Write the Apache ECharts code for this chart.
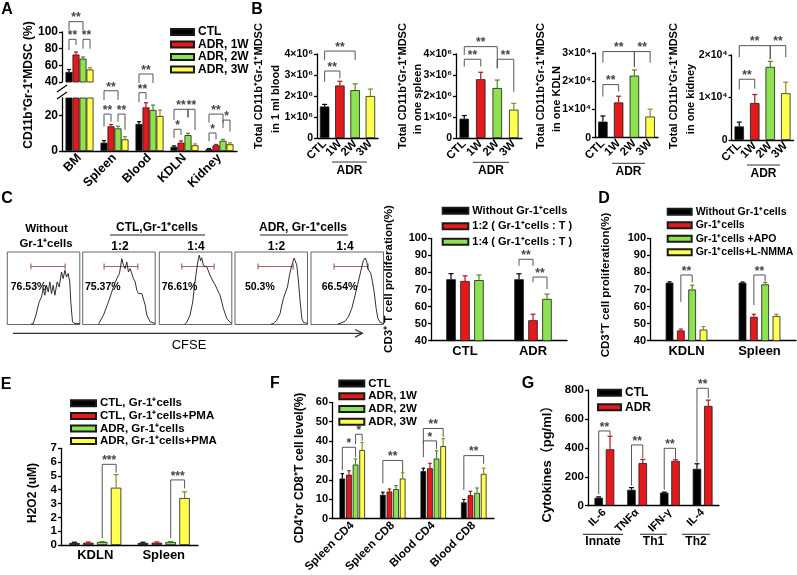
<!DOCTYPE html>
<html><head><meta charset="utf-8">
<script src="https://cdn.jsdelivr.net/npm/echarts@6/dist/echarts.min.js"></script>
<style>html,body{margin:0;padding:0;background:#fff}#c{width:797px;height:575px}</style>
</head><body><div id="c"></div>
<script>
// ================= DATA =================
// Panel A
const catsA = ['BM', 'Spleen', 'Blood', 'KDLN', 'Kidney'];
const namesA = ['CTL', 'ADR, 1W', 'ADR, 2W', 'ADR, 3W'];
const aCTL = [52, 4.7, 15.3, 2.4, 1.1];
const aW1 = [73, 14, 24.7, 4.7, 3.2];
const aW2 = [68, 12.8, 23.2, 9.0, 5.8];
const aW3 = [55, 6.6, 19.8, 3.2, 3.8];
const aErrCTL = [3, 1.2, 1.3, 0.5, 0.3];
const aErrW1 = [3, 1.0, 2.6, 1.0, 0.5];
const aErrW2 = [2, 1.2, 2.8, 1.0, 0.8];
const aErrW3 = [2, 1.5, 3.4, 0.8, 0.8];
const aUpperTicks = [40, 60, 80, 100];
const aLowerTicks = [0, 20];
// Panel B
const catsB = ['CTL', '1W', '2W', '3W'];
const bBlood = [1.5e6, 2.5e6, 2.28e6, 2.0e6];
const bBloodErr = [0.1e6, 0.2e6, 0.3e6, 0.33e6];
const bSpleen = [0.92e6, 2.8e6, 2.38e6, 1.35e6];
const bSpleenErr = [0.15e6, 0.33e6, 0.38e6, 0.3e6];
const bKDLN = [0.57e4, 1.25e4, 2.2e4, 0.75e4];
const bKDLNErr = [0.2e4, 0.22e4, 0.2e4, 0.26e4];
const bKidney = [0.32e4, 0.87e4, 1.72e4, 1.1e4];
const bKidneyErr = [0.1e4, 0.2e4, 0.13e4, 0.26e4];
// Panel C histograms (CFSE, % of box x / y)
const hist1 = [[33,0.8],[35.8,1.4],[39.4,12.8],[44.0,31.2],[47.2,38.1],[49.5,49.5],[51.8,40.4],[54.1,54.1],[56.4,45],[58.7,58.7],[61.0,42.7],[63.3,54.1],[65.6,40.4],[68.8,58.7],[71.6,51.8],[74.8,72.5],[77.1,63.3],[79.4,74.8],[81.7,65.6],[83.9,70.2],[86.2,58.7],[87.6,31.2],[89.9,3.7],[93.1,1.4],[100,1]];
const hist2 = [[22,0.8],[24.0,1.4],[28.6,12.8],[35.5,31.2],[42.4,51.8],[47.0,63.3],[50.7,70.2],[53.9,90.8],[56.2,81.7],[58.5,77.1],[60.8,86.2],[63.1,72.5],[65.4,77.1],[67.7,70.2],[70.0,63.3],[72.4,58.7],[74.7,47.2],[77.0,42.7],[79.3,45.0],[81.6,42.7],[83.9,40.4],[86.2,26.6],[88.5,12.8],[93.1,3.7],[100,1.4]];
const hist3 = [[35,0.8],[37.8,2.8],[42.4,12.8],[46.1,31.1],[49.3,58.7],[51.7,77.1],[53.9,90.9],[55.2,95.5],[56.8,88],[58.5,92],[60.8,81.7],[63,83],[65.5,79.3],[70.0,67.9],[72,66],[74.6,58.7],[77,55],[79.3,49.6],[81.5,44.9],[83.8,40.4],[86.2,31.1],[88.4,22.0],[93.1,8.3],[97.7,2.8],[100,1.5]];
const hist4 = [[50,0.8],[53.0,1.4],[57.6,6.0],[62.2,15.1],[64.5,26.6],[66.8,35.8],[69.1,42.7],[72.4,51.8],[75.1,67.9],[78.3,81.7],[81.6,91.7],[83.9,93.1],[85.3,81.7],[87.6,58.7],[89.9,31.2],[92.2,8.3],[94.5,2.8],[100,1.4]];
const hist5 = [[37,0.8],[40.1,1.4],[47.0,4.6],[51.6,10.6],[56.2,22.0],[60.8,40.4],[64.1,54.1],[66.8,65.6],[70.0,79.4],[72.4,88.5],[74.7,91.7],[77.0,86.2],[78.3,77.1],[80.2,79.4],[82.5,70.2],[84.8,58.7],[87.1,45.0],[89.9,22.0],[92.2,8.3],[95.4,2.8],[100,1.4]];
const gateStart = [32.5, 29.5, 31, 31.8, 31.8];
const gateEnd = [79.8, 76, 75.6, 80.2, 78.8];
const gateLevel = [80, 80, 80, 80, 80];
const pctLabels = ['76.53%', '75.37%', '76.61%', '50.3%', '66.54%'];
// Panel C bars
const catsC = ['CTL', 'ADR'];
const namesC = ['Without Gr-1⁺cells', '1:2 ( Gr-1⁺cells : T )', '1:4 ( Gr-1⁺cells : T )'];
const cWithout = [76, 76];
const cR12 = [75, 52];
const cR14 = [75.5, 64.5];
const cWithoutErr = [3.3, 3.2];
const cR12Err = [3, 3.5];
const cR14Err = [3, 2.8];
// Panel D
const catsD = ['KDLN', 'Spleen'];
const namesD = ['Without Gr-1⁺cells', 'Gr-1⁺cells', 'Gr-1⁺cells +APO', 'Gr-1⁺cells+L-NMMA'];
const dWithout = [74, 74];
const dGr = [46, 54];
const dApo = [70, 73];
const dNmma = [46.5, 54.5];
const dWithoutErr = [0.5, 0.4];
const dGrErr = [0.8, 1.5];
const dApoErr = [2.5, 1.2];
const dNmmaErr = [1.8, 1.0];
// Panel E
const catsE = ['KDLN', 'Spleen'];
const namesE = ['CTL, Gr-1⁺cells', 'CTL, Gr-1⁺cells+PMA', 'ADR, Gr-1⁺cells', 'ADR, Gr-1⁺cells+PMA'];
const eCtl = [0.15, 0.15];
const eCtlPma = [0.17, 0.17];
const eAdr = [0.22, 0.22];
const eAdrPma = [4.15, 3.4];
const eCtlErr = [0.05, 0.05];
const eCtlPmaErr = [0.05, 0.05];
const eAdrErr = [0.03, 0.03];
const eAdrPmaErr = [0.95, 0.45];
// Panel F
const catsF = ['Spleen CD4', 'Spleen CD8', 'Blood CD4', 'Blood CD8'];
const namesF = ['CTL', 'ADR, 1W', 'ADR, 2W', 'ADR, 3W'];
const fCTL = [20.7, 12.3, 24.5, 8.4];
const fW1 = [22.7, 14, 26, 12.1];
const fW2 = [27.9, 15.2, 31, 13.3];
const fW3 = [35.4, 20.7, 37.4, 23.1];
const fCTLErr = [2.5, 1.3, 1.5, 1.5];
const fW1Err = [2, 1.3, 2.5, 2];
const fW2Err = [2.9, 1.8, 4, 2.5];
const fW3Err = [3.9, 3, 3.9, 2.9];
// Panel G
const catsG = ['IL-6', 'TNFα', 'IFN-γ', 'IL-4'];
const namesG = ['CTL', 'ADR'];
const gCTL = [55, 110, 90, 255];
const gADR = [390, 295, 310, 690];
const gCTLErr = [6, 15, 4, 35];
const gADRErr = [90, 25, 8, 40];
// Significance brackets: [catA, serA, catB, serB, top, legEndA, legEndB, stars]
const sigAU = [[0,0,0,2,112.4,102.4,102.4,'**'],[0,0,0,1,91.2,78.4,84.4,'**'],[0,2,0,3,91.2,80,80,'**']];
const sigAL = [[1,0,1,2,34.1,28.9,28.9,'**'],[1,0,1,1,20.9,13.8,16.6,'**'],[1,2,1,3,20.9,16.6,12,'**'],
  [2,0,2,2,43.6,38.5,38.5,'**'],[2,0,2,1,33.0,27.7,29.5,'**'],
  [3,0,3,2,23.6,17.5,19,'**'],[3,0,3,1,12.3,7.4,9,'*'],[3,2,3,3,23.6,19,11.9,'**'],
  [4,0,4,2,20.9,16,16,'**'],[4,0,4,1,10.2,5.5,6.5,'*'],[4,2,4,3,17.5,13,11,'*']];
const sigB1 = [[0,0,1,0,3.19e6,2.68e6,2.84e6,'**'],[0,0,2,0,4.14e6,3.71e6,3.71e6,'**']];
const sigB2 = [[0,0,1,0,3.75e6,3.4e6,3.4e6,'**'],[0,0,2,0,4.35e6,3.95e6,3.32e6,'**'],[2,0,3,0,3.75e6,3.32e6,2.2e6,'**']];
const sigB3 = [[0,0,1,0,1.88e4,1.46e4,1.64e4,'**'],[0,0,2,0,3.05e4,2.66e4,2.5e4,'**'],[2,0,3,0,3.05e4,2.5e4,2.66e4,'**']];
const sigB4 = [[0,0,1,0,1.43e4,1.19e4,1.21e4,'**'],[0,0,2,0,2.22e4,1.95e4,1.9e4,'**'],[2,0,3,0,2.22e4,1.9e4,1.95e4,'**']];
const sigC = [[1,0,1,1,87.7,83.9,83.9,'**'],[1,1,1,2,77.3,74.2,70.3,'**']];
const sigD = [[0,1,0,2,78.5,62.8,74.2,'**'],[1,1,1,2,78.5,60.9,75,'**']];
const sigE = [[0,2,0,3,5.84,0.5,5.24,'***'],[1,2,1,3,4.71,0.5,4.1,'***']];
const sigF = [[0,0,0,2,36.8,24.9,31.7,'*'],[0,2,0,3,43.5,38.4,40.1,'*'],[1,0,1,3,30,18.2,24.1,'**'],
  [2,0,2,3,46.5,38.4,42.1,'**'],[2,0,2,2,40.1,31.7,35.9,'*'],[3,0,3,3,32.5,14.8,28.3,'**']];
const sigG = [[0,0,0,1,517,80,484,'**'],[1,0,1,1,420,140,330,'**'],[2,0,2,1,397,110,325,'**'],[3,0,3,1,812,300,743,'**']];

// ================= STYLE / HELPERS =================
const FONT = '"Liberation Sans", Arial, "Noto Sans CJK SC", sans-serif';
const BLACK = '#000000', RED = '#e3191c', GREEN = '#8fe24f', YELLOW = '#ffff50';
const PAL = [BLACK, RED, GREEN, YELLOW];
const ERRC = ['#000000', '#b5121a', '#4c8a25', '#8c8c22'];

function merge(a, b) {
  const o = Object.assign({}, a);
  for (const k in (b || {})) {
    if (b[k] && typeof b[k] === 'object' && !Array.isArray(b[k]) && a[k] && typeof a[k] === 'object') o[k] = merge(a[k], b[k]);
    else o[k] = b[k];
  }
  return o;
}
function yVal(grid, min, max, interval, extra) {
  return merge({
    type: 'value', gridIndex: grid, min, max, interval,
    axisLine: {show: true, lineStyle: {color: '#000', width: 1.3}},
    axisTick: {show: true, length: 3, lineStyle: {color: '#000', width: 1.3}},
    axisLabel: {color: '#000', fontWeight: 'bold', fontSize: 11, fontFamily: FONT, margin: 4},
    splitLine: {show: false}
  }, extra);
}
function xCat(grid, data, extra) {
  return merge({
    type: 'category', gridIndex: grid, data,
    axisLine: {show: true, onZero: false, lineStyle: {color: '#000', width: 1.3}},
    axisTick: {show: false},
    axisLabel: {color: '#000', fontWeight: 'bold', fontSize: 12, fontFamily: FONT, margin: 5, interval: 0},
    splitLine: {show: false}
  }, extra);
}
function bar(grid, name, data, color, bw, gap) {
  return {type: 'bar', name, xAxisIndex: grid, yAxisIndex: grid, data, barWidth: bw, barGap: gap,
    itemStyle: {color, borderColor: '#1a1a1a', borderWidth: 0.8}, silent: true, clip: true, z: 2};
}
function errSeries(grid, data, n, step, cap) {
  return {type: 'custom', name: 'err' + grid, xAxisIndex: grid, yAxisIndex: grid, clip: false, silent: true, z: 3,
    encode: {x: 0, y: 2}, data,
    renderItem: function (params, api) {
      const c = api.value(0), s = api.value(1), v = api.value(2), e = api.value(3), ci = api.value(4);
      const p0 = api.coord([c, v]), p1 = api.coord([c, v + e]);
      const x = p0[0] + (s - (n - 1) / 2) * step;
      const col = ERRC[ci];
      return {type: 'group', children: [
        {type: 'line', shape: {x1: x, y1: p0[1], x2: x, y2: p1[1]}, style: {stroke: col, lineWidth: 1.2}},
        {type: 'line', shape: {x1: x - cap / 2, y1: p1[1], x2: x + cap / 2, y2: p1[1]}, style: {stroke: col, lineWidth: 1.2}}
      ]};
    }};
}
function sigSeries(grid, list, n, step, fs) {
  return {type: 'custom', name: 'sig' + grid, xAxisIndex: grid, yAxisIndex: grid, clip: false, silent: true, z: 4,
    encode: {x: 0, y: 4}, data: list.map(s => s.slice(0, 7)),
    renderItem: function (params, api) {
      const s = list[params.dataIndex];
      const off = k => (k - (n - 1) / 2) * step;
      const pt = api.coord([s[0], s[4]]);
      const xa = pt[0] + off(s[1]);
      const xb = api.coord([s[2], s[4]])[0] + off(s[3]);
      const y = pt[1];
      const ya = api.coord([s[0], s[5]])[1];
      const yb = api.coord([s[2], s[6]])[1];
      return {type: 'group', children: [
        {type: 'polyline', shape: {points: [[xa, ya], [xa, y], [xb, y], [xb, yb]]}, style: {stroke: '#555', lineWidth: 1, fill: null}},
        {type: 'text', x: (xa + xb) / 2, y: y + 2.5, style: {text: s[7], fill: '#444', font: 'bold ' + (fs || 12) + 'px ' + FONT,
          textAlign: 'center', textVerticalAlign: 'bottom', align: 'center', verticalAlign: 'bottom'}}
      ]};
    }};
}
function errData(valsList, errsList, filter) {
  const out = [];
  valsList.forEach((vals, s) => vals.forEach((v, c) => {
    if (!filter || filter(v, errsList[s][c])) out.push([c, s, v, errsList[s][c], s]);
  }));
  return out;
}
function T(x, y, text, o) {
  o = o || {};
  const al = o.align || 'center', va = o.valign || 'middle';
  return {type: 'text', x, y, rotation: o.rot || 0, silent: true,
    style: {text, fill: o.color || '#000', font: (o.weight || 'bold') + ' ' + (o.size || 12) + 'px ' + FONT,
      textAlign: al, textVerticalAlign: va, align: al, verticalAlign: va}};
}
function L(x1, y1, x2, y2, color, w) {
  return {type: 'line', silent: true, shape: {x1, y1, x2, y2}, style: {stroke: color || '#000', lineWidth: w || 1.2}};
}
const R90 = Math.PI / 2;

// ================= LAYOUT =================
const grids = [], xAxes = [], yAxes = [], series = [], legends = [], gfx = [];
const histBoxLeft = [7.3, 82.7, 159.3, 235, 311];

// ---- A ----
grids.push({left: 62, top: 32, width: 175, height: 50});
grids.push({left: 62, top: 98, width: 175, height: 53});
xAxes.push(xCat(0, catsA, {show: false}));
xAxes.push(xCat(1, catsA, {axisLabel: {rotate: 45, fontSize: 12.5, margin: 5}}));
yAxes.push(yVal(0, 40, 100, 20, {axisLabel: {fontSize: 12, customValues: aUpperTicks}, axisTick: {customValues: aUpperTicks}}));
yAxes.push(yVal(1, 0, 30, 10, {axisLabel: {fontSize: 12, customValues: aLowerTicks}, axisTick: {customValues: aLowerTicks}}));
const aVals = [aCTL, aW1, aW2, aW3], aErrs = [aErrCTL, aErrW1, aErrW2, aErrW3];
namesA.forEach((nm, i) => {
  series.push(bar(0, nm, aVals[i].map(v => v > 40 ? v : '-'), PAL[i], 7, '0%'));
  series.push(bar(1, nm, aVals[i], PAL[i], 7, '0%'));
});
series.push(errSeries(0, errData(aVals, aErrs, v => v > 40), 4, 7, 4));
series.push(errSeries(1, errData(aVals, aErrs, (v, e) => v + e <= 30), 4, 7, 4));
series.push(sigSeries(0, sigAU, 4, 7));
series.push(sigSeries(1, sigAL, 4, 7));
legends.push({data: namesA, left: 170, top: 25.75, itemWidth: 23, itemHeight: 6, lineHeight: 12.5, fontSize: 12});

// ---- B ----
const bGrids = [
  {left: 317, top: 54, width: 61, height: 84},
  {left: 456, top: 54, width: 66, height: 84},
  {left: 595, top: 53, width: 63, height: 84.7},
  {left: 731.5, top: 55, width: 62, height: 85}
];
const bVals = [bBlood, bSpleen, bKDLN, bKidney], bErrs = [bBloodErr, bSpleenErr, bKDLNErr, bKidneyErr];
const bMax = [4e6, 4e6, 3e4, 2e4], bUnit = [1e6, 1e6, 1e4, 1e4], bSup = ['⁶', '⁶', '⁴', '⁴'];
const bSig = [sigB1, sigB2, sigB3, sigB4];
bGrids.forEach((g, k) => {
  const gi = 2 + k;
  grids.push(g);
  xAxes.push(xCat(gi, catsB, {axisLabel: {rotate: 45, fontSize: 11.5, margin: 4}}));
  yAxes.push(yVal(gi, 0, bMax[k], bUnit[k], {axisLabel: {fontSize: 10.5,
    formatter: v => v === 0 ? '0' : (Math.round(v / bUnit[k])) + '×10' + bSup[k]}}));
  series.push({type: 'bar', name: 'B' + k, xAxisIndex: gi, yAxisIndex: gi, barWidth: 9.5, silent: true,
    data: bVals[k].map((v, i) => ({value: v, itemStyle: {color: PAL[i], borderColor: '#1a1a1a', borderWidth: 0.8}}))});
  series.push(errSeries(gi, bVals[k].map((v, i) => [i, 0, v, bErrs[k][i], i]), 1, 0, 5));
  series.push(sigSeries(gi, bSig[k], 1, 0));
});

// ---- C histograms ----
const hists = [hist1, hist2, hist3, hist4, hist5];
hists.forEach((h, k) => {
  const gi = 6 + k;
  grids.push({left: histBoxLeft[k], top: 252, width: 72.5, height: 72.5, show: true, borderColor: '#666', borderWidth: 1});
  xAxes.push({type: 'value', gridIndex: gi, min: 0, max: 100, show: false});
  yAxes.push({type: 'value', gridIndex: gi, min: 0, max: 100, show: false});
  series.push({type: 'line', name: 'hist' + k, xAxisIndex: gi, yAxisIndex: gi, data: h, symbol: 'none', silent: true,
    lineStyle: {color: '#1a1a1a', width: 0.9}});
  series.push({type: 'custom', name: 'gate' + k, xAxisIndex: gi, yAxisIndex: gi, silent: true, clip: false,
    data: [[gateStart[k], gateLevel[k], gateEnd[k]]],
    renderItem: function (params, api) {
      const a = api.coord([api.value(0), api.value(1)]), b = api.coord([api.value(2), api.value(1)]);
      const c = '#a8645e';
      return {type: 'group', children: [
        {type: 'line', shape: {x1: a[0], y1: a[1], x2: b[0], y2: b[1]}, style: {stroke: c, lineWidth: 1.2}},
        {type: 'line', shape: {x1: a[0], y1: a[1] - 3, x2: a[0], y2: a[1] + 3}, style: {stroke: c, lineWidth: 1.2}},
        {type: 'line', shape: {x1: b[0], y1: b[1] - 3, x2: b[0], y2: b[1] + 3}, style: {stroke: c, lineWidth: 1.2}}
      ]};
    }});
});

// ---- C bars ----
grids.push({left: 431, top: 238.3, width: 136, height: 102.4});
xAxes.push(xCat(11, catsC, {axisLabel: {fontSize: 13, margin: 4}}));
yAxes.push(yVal(11, 40, 100, 10, {axisLabel: {fontSize: 11}}));
const cVals = [cWithout, cR12, cR14], cErrs = [cWithoutErr, cR12Err, cR14Err];
namesC.forEach((nm, i) => series.push(bar(11, nm, cVals[i], PAL[i], 9.5, '47%')));
series.push(errSeries(11, errData(cVals, cErrs), 3, 14, 5));
series.push(sigSeries(11, sigC, 3, 14));
legends.push({data: namesC, left: 441.7, top: 203, itemWidth: 25.6, itemHeight: 6, lineHeight: 15.5, fontSize: 11});

// ---- D ----
grids.push({left: 650, top: 238.3, width: 146, height: 102.4});
xAxes.push(xCat(12, catsD, {axisLabel: {fontSize: 13, margin: 4}}));
yAxes.push(yVal(12, 40, 100, 10, {axisLabel: {fontSize: 11}}));
const dVals = [dWithout, dGr, dApo, dNmma], dErrs = [dWithoutErr, dGrErr, dApoErr, dNmmaErr];
namesD.forEach((nm, i) => series.push(bar(12, nm, dVals[i], PAL[i], 7.7, '47%')));
series.push(errSeries(12, errData(dVals, dErrs), 4, 11.3, 4));
series.push(sigSeries(12, sigD, 4, 11.3));
legends.push({data: namesD, left: 666.7, top: 205, itemWidth: 24, itemHeight: 6, lineHeight: 13.5, fontSize: 10.5});

// ---- E ----
grids.push({left: 61, top: 448.3, width: 137, height: 96.7});
xAxes.push(xCat(13, catsE, {axisLabel: {fontSize: 13, margin: 4}}));
yAxes.push(yVal(13, 0, 7, 1, {axisLabel: {fontSize: 11.5}}));
const eVals = [eCtl, eCtlPma, eAdr, eAdrPma], eErrs = [eCtlErr, eCtlPmaErr, eAdrErr, eAdrPmaErr];
namesE.forEach((nm, i) => series.push(bar(13, nm, eVals[i], PAL[i], 10.5, '32%')));
series.push(errSeries(13, errData(eVals, eErrs), 4, 13.9, 5));
series.push(sigSeries(13, sigE, 4, 13.9));
legends.push({data: namesE, left: 70, top: 397, itemWidth: 25, itemHeight: 6, lineHeight: 12.6, fontSize: 11.5});

// ---- F ----
grids.push({left: 332, top: 402.3, width: 162, height: 118.7});
xAxes.push(xCat(14, catsF, {axisLabel: {rotate: 45, fontSize: 11.5, margin: 5}}));
yAxes.push(yVal(14, 0, 60, 10, {axisLabel: {fontSize: 11}}));
const fVals = [fCTL, fW1, fW2, fW3], fErrs = [fCTLErr, fW1Err, fW2Err, fW3Err];
namesF.forEach((nm, i) => series.push(bar(14, nm, fVals[i], PAL[i], 5.7, '16%')));
series.push(errSeries(14, errData(fVals, fErrs), 4, 6.6, 3.5));
series.push(sigSeries(14, sigF, 4, 6.6));
legends.push({data: namesF, left: 338.3, top: 377, itemWidth: 25, itemHeight: 6, lineHeight: 12.8, fontSize: 11.5});

// ---- G ----
grids.push({left: 588, top: 390, width: 131, height: 115.7});
xAxes.push(xCat(15, catsG, {axisLabel: {rotate: 45, fontSize: 11, margin: 5}}));
yAxes.push(yVal(15, 0, 800, 200, {axisLabel: {fontSize: 11.5}}));
const gVals = [gCTL, gADR], gErrs = [gCTLErr, gADRErr];
namesG.forEach((nm, i) => series.push(bar(15, nm, gVals[i], PAL[i], 8.5, '33%')));
series.push(errSeries(15, errData(gVals, gErrs), 2, 11.3, 5));
series.push(sigSeries(15, sigG, 2, 11.3));
legends.push({data: namesG, left: 597, top: 385.4, itemWidth: 23, itemHeight: 6, lineHeight: 14.6, fontSize: 12});

// ================= GRAPHIC TEXT / DECORATION =================
[['A', 7, 9.5], ['B', 257, 9.5], ['C', 7, 199], ['D', 604, 199], ['E', 6, 385], ['F', 275, 383.5], ['G', 528, 384]]
  .forEach(p => gfx.push(T(p[1], p[2], p[0], {size: 16})));
// A
gfx.push(T(29, 85, 'CD11b⁺Gr-1⁺MDSC (%)', {rot: R90, size: 12}));
gfx.push(L(57, 92, 67, 85, '#000', 1.2), L(57, 99, 67, 92, '#000', 1.2));
// B axis titles
[[259, 276, 'in 1 ml blood'], [402.5, 418, 'in one spleen'], [541, 557, 'in one KDLN'], [674, 691, 'in one kidney']]
  .forEach(p => {
    gfx.push(T(p[0], 86, 'Total CD11b⁺Gr-1⁺MDSC', {rot: R90, size: 11}));
    gfx.push(T(p[1], 99, p[2], {rot: R90, size: 11}));
  });
// B ADR underlines
[[332, 367, 162, 170], [473, 509, 162.3, 170], [612, 645, 163.3, 171], [747, 780, 165, 172.3]]
  .forEach(p => { gfx.push(L(p[0], p[2], p[1], p[2], '#333', 1)); gfx.push(T((p[0] + p[1]) / 2, p[3] + 1, 'ADR', {size: 12})); });
// C headers
gfx.push(T(46.5, 229, 'Without', {size: 11.5}), T(46, 244, 'Gr-1⁺cells', {size: 11.5}));
gfx.push(T(157, 227.5, 'CTL,Gr-1⁺cells', {size: 12}), L(110, 235, 205, 235, '#222', 1));
gfx.push(T(303, 227.5, 'ADR, Gr-1⁺cells', {size: 12}), L(260, 235, 348, 235, '#222', 1));
[[120, '1:2'], [196, '1:4'], [276.5, '1:2'], [345, '1:4']].forEach(p => gfx.push(T(p[0], 247, p[1], {size: 12})));
[10.7, 85, 161.7, 245, 321.7].forEach((x, k) => gfx.push(T(x, 287, pctLabels[k], {size: 10.5, align: 'left'})));
gfx.push(L(13, 333.3, 362, 333.3, '#333', 1.2));
gfx.push({type: 'polyline', silent: true, shape: {points: [[355, 329.5], [362.5, 333.3], [355, 337.1]]}, style: {stroke: '#333', lineWidth: 1.2, fill: null}});
gfx.push(T(189, 345.5, 'CFSE', {size: 13, weight: 'normal'}));
gfx.push(T(389, 279, 'CD3⁺ T cell proliferation(%)', {rot: R90, size: 11.5}));
// D
gfx.push(T(606, 285, 'CD3⁺T cell proliferation(%)', {rot: R90, size: 11.5}));
// E
gfx.push(T(33, 493, 'H2O2 (uM)', {rot: R90, size: 12}));
// F
gfx.push(T(300, 468, 'CD4⁺or CD8⁺T cell level(%)', {rot: R90, size: 12}));
// G
gfx.push(T(547.5, 461, 'Cytokines（pg/ml）', {rot: R90, size: 13}));
[[583, 623, 'Innate'], [640, 667, 'Th1'], [682, 710, 'Th2']].forEach(p => {
  gfx.push(L(p[0], 534.3, p[1], 534.3, '#444', 1.2));
  gfx.push(T((p[0] + p[1]) / 2, 542, p[2], {size: 12}));
});

const legendOpts = legends.map(l => ({
  data: l.data, left: l.left, top: l.top, orient: 'vertical', padding: 0, itemGap: 0,
  itemWidth: l.itemWidth, itemHeight: l.itemHeight, icon: 'rect', selectedMode: false,
  textStyle: {color: '#000', fontWeight: 'bold', fontSize: l.fontSize, fontFamily: FONT, lineHeight: l.lineHeight, padding: [0, 0, 0, -1]}
}));

const chart = echarts.init(document.getElementById('c'), null, {renderer: 'canvas'});
chart.setOption({
  animation: false,
  backgroundColor: '#ffffff',
  textStyle: {fontFamily: FONT},
  grid: grids,
  xAxis: xAxes,
  yAxis: yAxes,
  legend: legendOpts,
  series: series,
  graphic: {elements: gfx}
});
</script></body></html>
